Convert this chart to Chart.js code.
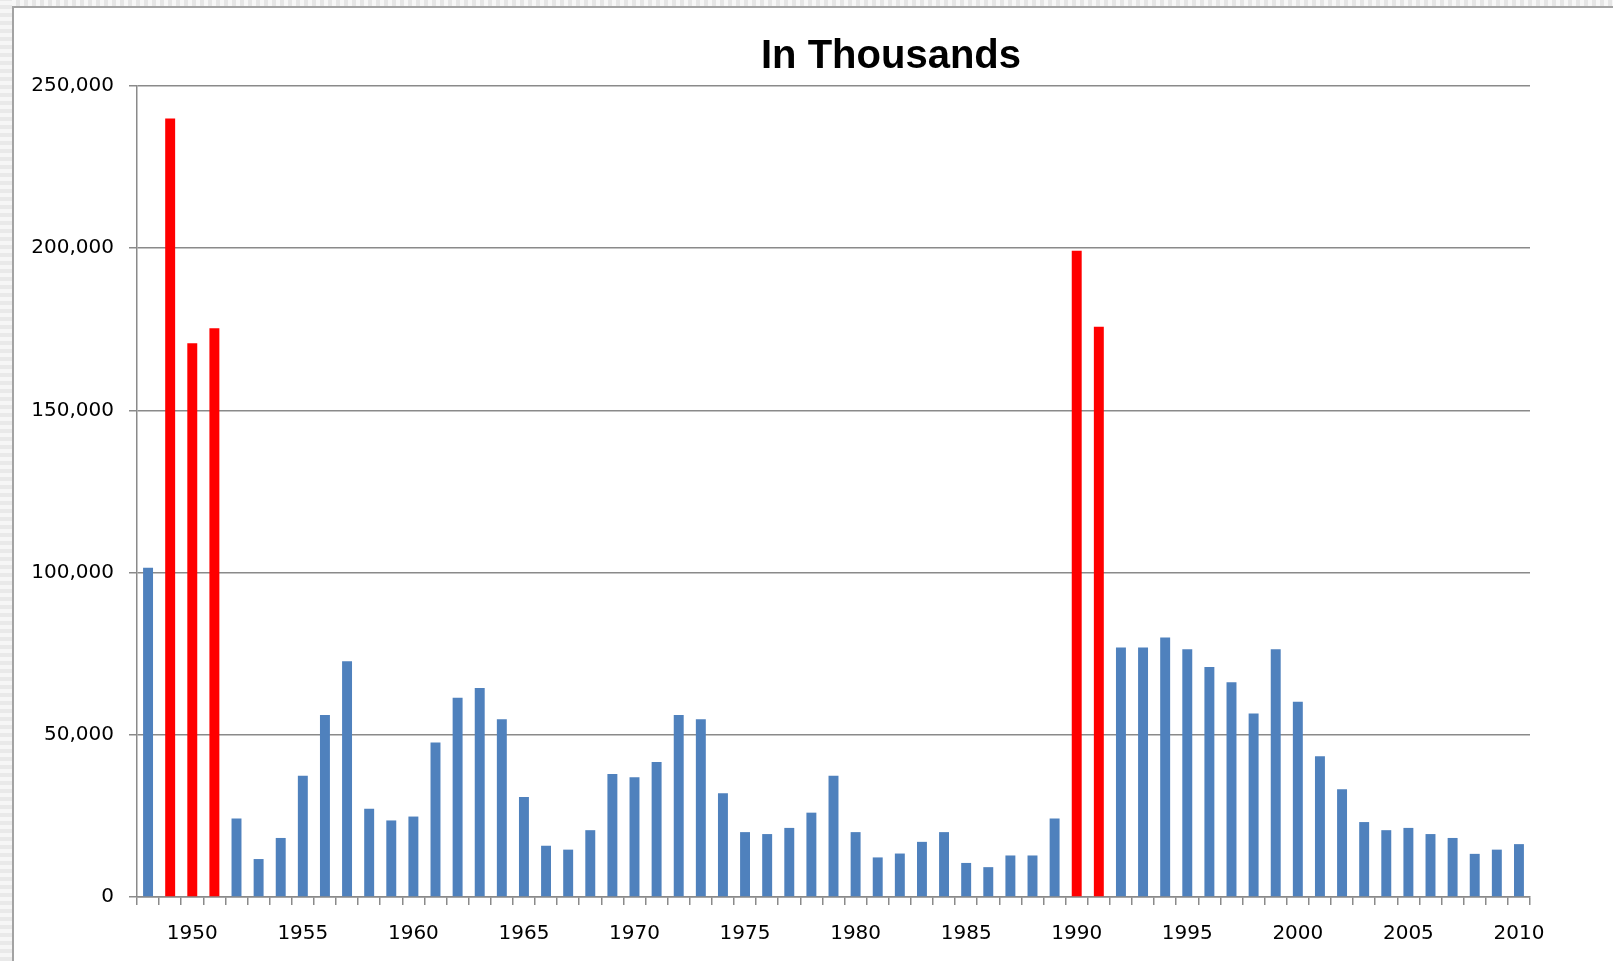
<!DOCTYPE html>
<html>
<head>
<meta charset="utf-8">
<title>In Thousands</title>
<script src="https://cdn.jsdelivr.net/npm/chart.js@4/dist/chart.umd.min.js"></script>
<style>
  html, body { margin: 0; padding: 0; width: 1613px; height: 961px; overflow: hidden; background: #fff; }
  #topstrip { position: absolute; left: 0; top: 0; width: 1613px; height: 6px;
    background: repeating-linear-gradient(90deg, #e6e6e6 0 4px, #f7f7f7 4px 8px); }
  #leftstrip { position: absolute; left: 0; top: 0; width: 12px; height: 961px;
    background: repeating-linear-gradient(0deg, #e9e9e9 0 4px, #f6f6f6 4px 8px); }
  #frame { position: absolute; left: 12px; top: 6px; width: 1601px; height: 955px;
    border-left: 2px solid #a3a3a3; border-top: 2px solid #a3a3a3; box-sizing: border-box; background: #fff; }
  #wrap { position: absolute; left: 13px; top: 7px; }
</style>
</head>
<body>
<div id="topstrip"></div>
<div id="leftstrip"></div>
<div id="frame"></div>
<div id="wrap"><canvas id="chart" width="1756" height="954"></canvas></div>
<script>
// years 1948..2010
var years = [];
for (var y = 1948; y <= 2010; y++) years.push(y);

// values (thousands)
var values = [
  101500, 240000, 170700, 175300, 24200, 11700, 18200, 37400, 56100, 72700,   // 1948-1957
  27200, 23600, 24800, 47600, 61400, 64400, 54800, 30800, 15800, 14600,       // 1958-1967
  20600, 37900, 36900, 41600, 56100, 54800, 32000, 20000, 19400, 21300,       // 1968-1977
  26000, 37400, 20000, 12200, 13400, 17000, 20000, 10500, 9200, 12800,        // 1978-1987
  12800, 24200, 199200, 175800, 76900, 76900, 80000, 76400, 70900, 66200,     // 1988-1997
  56600, 76400, 60200, 43400, 33200, 23100, 20600, 21300, 19400, 18200,       // 1998-2007
  13300, 14600, 16300                                                          // 2008-2010
];

var highlightYears = [1949, 1950, 1951, 1990, 1991];
var yTicks = [0, 50000, 100000, 150000, 200000, 250000];

var blue = '#4f81bd';
var red = '#ff0000';
var gridColor = '#8a8a8a';

var ctx = document.getElementById('chart').getContext('2d');
var chart = new Chart(ctx, {
  type: 'bar',
  data: {
    labels: years,
    datasets: [{
      data: values,
      backgroundColor: function(c) {
        return highlightYears.indexOf(years[c.dataIndex]) >= 0 ? red : blue;
      },
      barPercentage: 0.9,
      categoryPercentage: 0.5
    }]
  },
  options: {
    responsive: false,
    animation: false,
    layout: { padding: 0 },
    plugins: {
      legend: { display: false },
      tooltip: { enabled: false },
      title: {
        display: true,
        text: 'In Thousands',
        color: '#000',
        font: { family: 'Liberation Sans, Arial, sans-serif', size: 40, weight: 'bold' },
        padding: { top: 26, bottom: 5 }
      }
    },
    scales: {
      x: {
        offset: true,
        grid: { offset: true, drawOnChartArea: false, drawTicks: true, tickLength: 8, color: gridColor, lineWidth: 1.5 },
        border: { display: true, color: gridColor, width: 1.5 },
        ticks: {
          autoSkip: false,
          maxRotation: 0,
          padding: 17,
          color: '#000',
          font: { family: 'DejaVu Sans, sans-serif', size: 20 },
          callback: function(v, i) { return years[i] % 5 === 0 ? String(years[i]) : ''; }
        },
        afterFit: function(s) { s.height = 64; }
      },
      y: {
        min: 0,
        max: 250000,
        afterBuildTicks: function(s) { s.ticks = yTicks.map(function(v) { return { value: v }; }); },
        grid: { color: gridColor, lineWidth: 1.5, tickLength: 8 },
        border: { display: true, color: gridColor, width: 1.5 },
        ticks: {
          padding: 15,
          color: '#000',
          font: { family: 'DejaVu Sans, sans-serif', size: 20 },
          callback: function(v) { return v.toLocaleString('en-US'); }
        },
        afterFit: function(s) { s.width = 124; }
      },
      // empty right-hand space so the title sits where it does in the original
      spacer: {
        position: 'right',
        display: true,
        grid: { display: false },
        border: { display: false },
        ticks: { display: false },
        afterFit: function(s) { s.width = 239; }
      }
    }
  }
});
</script>
</body>
</html>
